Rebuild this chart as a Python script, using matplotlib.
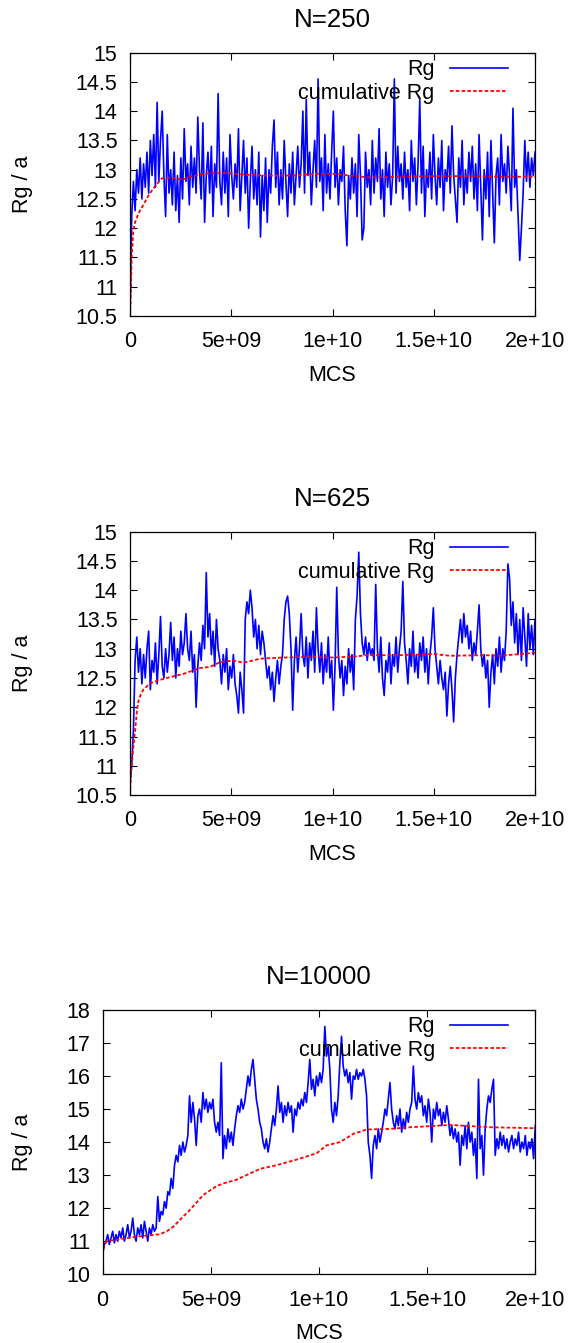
import numpy as np
import matplotlib
matplotlib.use('Agg')
import matplotlib.pyplot as plt

plt.rcParams['font.family'] = ['Liberation Sans', 'DejaVu Sans']
plt.rcParams['font.size'] = 15.5

# --- data ---
titles = ['N=250', 'N=625', 'N=10000']

# Rg, N=250 (evenly spaced samples over 0..2e10 MCS)
rg_250 = [
    10.5, 12.2,
    12.8, 12.3, 13.0, 12.6, 13.2, 12.5, 13.1, 12.7, 13.3, 12.6, 13.5, 12.9, 13.6, 12.7, 14.15, 12.8, 13.5, 14.0, 12.9,
    12.2, 13.6, 12.6, 13.0, 12.4, 13.3, 12.3, 12.9, 12.1, 13.2, 12.5, 13.7, 12.8, 13.1, 12.4, 13.4, 12.7, 13.2, 12.6, 13.9,
    13.0, 12.5, 13.8, 12.1, 12.9, 13.3, 12.6, 13.4, 12.2, 13.1, 12.7, 14.3, 12.8, 12.4, 13.3, 12.6, 13.2, 12.2, 13.6, 12.9,
    12.5, 13.1, 12.7, 13.7, 12.3, 12.9, 13.5, 12.6, 13.2, 12.0, 12.8, 13.4, 12.5, 13.0, 12.4, 13.3, 11.85, 12.9, 12.3, 13.2,
    12.1, 13.0, 12.6, 13.4, 13.85, 12.7, 13.3, 12.4, 13.0, 12.5, 13.5, 12.8, 12.2, 13.1, 12.6, 13.3, 12.4, 12.9, 13.4, 12.7,
    13.1, 14.0, 12.6, 14.2, 12.9, 13.3, 12.4, 13.0, 13.5, 12.7, 14.55, 12.8, 13.2, 12.3, 13.6, 12.6, 13.1, 12.5, 13.3, 14.0,
    12.7, 13.2, 12.4, 13.0, 12.8, 13.4, 12.3, 11.7, 12.9, 12.5, 13.2, 12.6, 13.1, 12.2, 13.6, 12.9, 11.8, 12.0, 13.3, 12.7,
    13.0, 12.4, 13.5, 12.6, 13.2, 12.8, 13.7, 12.5, 13.0, 12.2, 13.3, 12.7, 13.1, 12.4, 12.9, 14.55, 12.6, 13.4, 12.8, 13.1,
    12.5, 13.3, 12.7, 13.0, 12.3, 13.5, 12.8, 13.2, 12.4, 13.1, 14.2, 12.6, 13.4, 12.2, 13.0, 12.7, 13.3, 12.5, 13.6, 12.9,
    12.4, 13.2, 12.7, 13.5, 12.3, 13.0, 12.8, 13.4, 12.6, 13.75, 12.9, 12.5, 12.1, 13.2, 12.7, 13.5, 12.4, 13.0, 12.6, 13.3,
    12.8, 13.4, 12.5, 13.1, 12.3, 13.6, 12.7, 11.8, 13.0, 12.5, 13.3, 12.2, 13.5, 12.6, 11.75, 12.9, 13.2, 12.4, 13.6, 12.8,
    13.1, 12.6, 13.4, 12.9, 12.3, 14.05, 12.7, 13.0, 12.2, 11.45, 12.0, 12.6, 13.5, 12.8, 13.3, 12.7, 13.2, 12.9, 13.3,
]

# Rg, N=625
rg_625 = [
    10.7, 11.0, 11.6, 12.8, 13.2, 12.6, 13.0, 12.4, 12.9, 12.5,
    13.0, 13.3, 12.3, 12.8, 12.6, 13.1, 12.4, 12.9, 13.55, 12.7,
    12.5, 13.0, 12.6, 12.9, 13.45, 12.8, 13.2, 12.5, 13.0, 12.7,
    13.3, 12.9, 13.1, 13.6, 13.0, 12.8, 13.3, 12.6, 12.9, 12.0,
    12.7, 13.1, 12.8, 13.4, 13.0, 14.3, 13.2, 13.6, 12.9, 13.3,
    12.7, 13.5, 13.0, 12.8, 12.4, 12.9, 12.6, 13.0, 12.3, 12.7,
    12.5, 12.9, 12.4, 12.2, 11.9, 12.6, 12.3, 11.9, 13.5, 13.8,
    13.6, 14.0, 13.7, 13.2, 13.5, 13.0, 13.4, 12.9, 13.3, 13.1,
    12.8, 12.5, 12.7, 12.3, 12.6, 12.1, 12.5, 12.8, 12.4, 12.7,
    12.9, 13.5, 13.8, 13.9, 13.6, 13.0, 11.95, 12.8, 13.2, 12.6,
    13.0, 13.6, 12.9, 12.7, 13.2, 12.5, 13.1, 12.8, 13.3, 12.6,
    13.7, 13.0, 12.6, 13.1, 12.4, 12.9, 12.6, 13.2, 12.5, 12.8,
    11.95, 12.7, 14.05, 12.9, 12.5, 12.8, 12.2, 12.7, 12.4, 13.0,
    12.6, 12.9, 12.3, 13.5, 13.9, 14.65, 13.6, 13.1, 12.9, 13.2,
    12.8, 13.1, 12.9, 13.0, 12.8, 14.1, 13.0, 12.6, 13.2, 12.5,
    12.2, 12.8, 12.6, 13.1, 12.4, 12.9, 12.7, 13.2, 12.6, 13.0,
    13.3, 14.15, 13.1, 12.8, 12.4, 13.0, 12.7, 13.3, 12.6, 12.9,
    12.5, 13.1, 12.8, 13.2, 12.6, 13.0, 12.4, 12.9, 13.2, 13.7,
    13.0, 12.7, 12.4, 12.8, 12.5, 12.3, 12.6, 11.85, 12.4, 12.7,
    12.3, 11.75, 12.5, 12.9, 13.2, 13.5, 13.1, 13.6, 13.2, 13.4,
    13.0, 13.3, 12.8, 13.1, 12.9, 13.3, 13.75, 13.0, 12.7, 12.9,
    12.5, 12.8, 12.0, 12.6, 12.9, 12.4, 13.0, 12.7, 13.2, 12.6,
    13.0, 12.8, 13.3, 14.45, 14.2, 13.4, 13.8, 13.1, 13.6, 12.9,
    13.5, 12.8, 13.7, 13.2, 12.7, 13.6, 13.0, 13.4, 12.9, 13.5,
]

# Rg, N=10000
rg_10000 = [
    10.6, 10.9, 11.0, 11.2, 10.9, 11.1, 11.3, 10.95, 11.2, 11.0,
    11.3, 11.1, 11.4, 11.0, 11.2, 11.5, 11.1, 11.3, 11.7, 11.2,
    11.0, 11.4, 11.2, 11.5, 11.1, 11.6, 11.3, 11.0, 11.4, 11.2,
    11.5, 11.3, 11.4, 12.35, 11.6, 11.9, 11.8, 12.2, 12.0, 12.5,
    12.4, 12.9, 12.6, 13.3, 13.6, 13.4, 13.9, 13.6, 14.0, 13.7,
    13.9, 14.2, 15.4, 14.6, 15.2, 14.7, 13.9, 14.8, 15.0, 14.6,
    15.5, 15.0, 15.3, 14.9, 15.2, 15.0, 15.3, 14.6, 14.3, 14.6,
    14.2, 16.4, 13.5, 14.2, 13.8, 14.4, 14.0, 14.3, 13.9, 14.4,
    14.8, 15.1, 14.9, 15.3, 15.0, 15.2, 15.6, 16.0, 15.7, 16.2,
    16.5, 15.9, 15.3, 15.0, 14.6, 14.4, 14.0, 13.8, 14.1, 13.7,
    14.0, 14.4, 14.8, 14.5, 15.0, 15.7, 14.9, 15.2, 14.6, 15.1,
    14.8, 15.2, 14.9, 15.1, 14.3, 15.0, 14.8, 15.2, 15.0, 15.3,
    15.1, 15.5, 15.2, 15.8, 16.5, 15.6, 15.9, 15.4, 16.0, 15.7,
    16.1, 15.8, 16.2, 17.5, 16.6, 16.9, 16.2, 15.0, 14.6, 15.2,
    14.8, 15.4, 16.4, 17.2, 16.3, 16.0, 16.2, 15.8, 16.1, 15.3,
    16.0, 15.9, 16.2, 15.9, 16.1, 16.0, 16.2, 15.9, 15.4, 14.0,
    13.6, 12.9, 13.9, 14.2, 13.8, 14.4, 14.0, 14.3, 14.6, 15.0,
    14.8, 15.3, 15.8, 15.0, 14.6, 14.4, 14.8, 14.5, 15.0, 14.3,
    14.7, 14.4, 14.9, 14.6, 15.0, 15.2, 16.3, 15.3, 15.0, 15.5,
    15.2, 15.4, 14.8, 15.1, 14.6, 15.3, 14.9, 14.0, 15.0, 14.7,
    15.2, 14.8, 15.0, 14.5, 14.9, 14.6, 15.1, 14.7, 14.2, 14.5,
    14.1, 14.4, 14.0, 14.3, 13.3, 14.2, 13.9, 14.5, 13.8, 14.6,
    14.0, 14.3, 13.6, 14.1, 12.9, 15.9, 13.8, 14.2, 13.0, 14.4,
    15.0, 15.4, 15.2, 15.6, 15.9, 13.6, 14.1, 13.8, 14.3, 13.9,
    14.2, 13.8, 14.1, 13.7, 14.0, 14.2, 13.8, 14.1, 13.9, 14.3,
    13.7, 14.0, 13.8, 14.2, 13.6, 14.0, 13.8, 14.1, 13.5, 14.5,
]

# cumulative Rg (MCS in units of 1e9, value)
cum_x_250 = [0, 0.05, 0.08, 0.16, 0.25, 0.41, 0.66, 0.9, 1.15, 1.56, 1.98, 2.55, 3.05, 3.46,
             3.95, 4.77, 5.93, 6.75, 8.07, 9.22, 10.04, 10.86, 11.69, 12.5, 13.33, 14.98,
             16.63, 18.27, 20.0]
cum_y_250 = [10.5, 11.0, 11.5, 11.95, 12.1, 12.25, 12.4, 12.55, 12.68, 12.85, 12.87, 12.83, 12.88, 12.92,
             12.94, 12.94, 12.91, 12.9, 12.9, 12.93, 12.93, 12.9, 12.87, 12.87, 12.88, 12.89,
             12.89, 12.88, 12.88]

cum_x_625 = [0, 0.05, 0.08, 0.16, 0.25, 0.33, 0.41, 0.53, 0.66, 0.99, 1.4, 1.81, 2.63, 3.46,
             3.95, 4.44, 5.1, 5.6, 6.42, 7.57, 8.72, 10.04, 11.19, 11.69, 13.33, 14.98,
             15.8, 17.45, 18.27, 20.0]
cum_y_625 = [10.5, 10.9, 11.0, 11.3, 11.6, 11.9, 12.1, 12.22, 12.3, 12.41, 12.46, 12.5, 12.57, 12.67,
             12.69, 12.77, 12.8, 12.76, 12.83, 12.85, 12.86, 12.85, 12.87, 12.89, 12.89, 12.91,
             12.88, 12.89, 12.88, 12.93]

cum_x_10000 = [0, 0.06, 0.18, 0.96, 1.73, 2.65, 2.96, 3.27, 3.65, 4.04, 4.65, 5.27, 5.58, 6.19,
               6.81, 7.27, 8.04, 8.97, 9.89, 10.35, 10.97, 11.59, 12.2, 13.28, 14.21, 14.82,
               16.06, 17.13, 17.9, 20.0]
cum_y_10000 = [10.6, 10.85, 11.0, 11.08, 11.15, 11.21, 11.3, 11.44, 11.7, 11.95, 12.4, 12.67, 12.75, 12.86,
               13.05, 13.19, 13.3, 13.47, 13.66, 13.9, 14.0, 14.25, 14.38, 14.4, 14.45, 14.47,
               14.52, 14.48, 14.45, 14.42]

x_ticks = [0, 5e9, 1e10, 1.5e10, 2e10]
x_ticklabels = ['0', '5e+09', '1e+10', '1.5e+10', '2e+10']
y_ticks_small = [10.5, 11, 11.5, 12, 12.5, 13, 13.5, 14, 14.5, 15]
y_ticklabels_small = ['10.5', '11', '11.5', '12', '12.5', '13', '13.5', '14', '14.5', '15']
y_ticks_big = [10, 11, 12, 13, 14, 15, 16, 17, 18]
y_ticklabels_big = ['10', '11', '12', '13', '14', '15', '16', '17', '18']


def draw_panel(ax, rg, cum_x, cum_y, title, yticks, ylabels, ylab_x, leg_x):
    mcs = np.linspace(0, 2e10, len(rg))
    ax.plot(mcs, rg, color='#0000ff', lw=1.2, label='Rg')
    ax.plot(np.array(cum_x) * 1e9, cum_y, color='#ff0000', lw=1.3,
            ls=(0, (2.0, 1.2)), label='cumulative Rg')

    ax.set_xlim(0, 2e10)
    ax.set_ylim(yticks[0], yticks[-1])
    ax.set_xticks(x_ticks)
    ax.set_xticklabels(x_ticklabels)
    ax.set_yticks(yticks)
    ax.set_yticklabels(ylabels)
    ax.tick_params(direction='in', length=5, width=0.8, top=True, right=True)
    ax.tick_params(axis='x', pad=11)
    ax.tick_params(axis='y', pad=9)
    for s in ax.spines.values():
        s.set_linewidth(0.9)

    ax.set_title(title, pad=18.5)
    ax.set_xlabel('MCS')
    ax.xaxis.set_label_coords(0.5, -0.185)
    ax.set_ylabel('Rg / a')
    ax.yaxis.set_label_coords(ylab_x, 0.5)

    ax.legend(loc='upper right', bbox_to_anchor=(leg_x, 1), frameon=False,
              markerfirst=False, borderaxespad=0, borderpad=0.3,
              handlelength=2.7, handletextpad=0.7, labelspacing=0.12)


fig = plt.figure(figsize=(5.72, 13.43), dpi=100)
ax1 = fig.add_axes([0.2273, 0.7647, 0.708, 0.1961])
ax2 = fig.add_axes([0.2273, 0.4080, 0.708, 0.1961])
ax3 = fig.add_axes([0.1795, 0.0512, 0.7563, 0.1968])

draw_panel(ax1, rg_250, cum_x_250, cum_y_250, titles[0],
           y_ticks_small, y_ticklabels_small, -0.2395, 0.949)
draw_panel(ax2, rg_625, cum_x_625, cum_y_625, titles[1],
           y_ticks_small, y_ticklabels_small, -0.2395, 0.949)
draw_panel(ax3, rg_10000, cum_x_10000, cum_y_10000, titles[2],
           y_ticks_big, y_ticklabels_big, -0.161, 0.952)

fig.savefig('out.png', dpi=100)
